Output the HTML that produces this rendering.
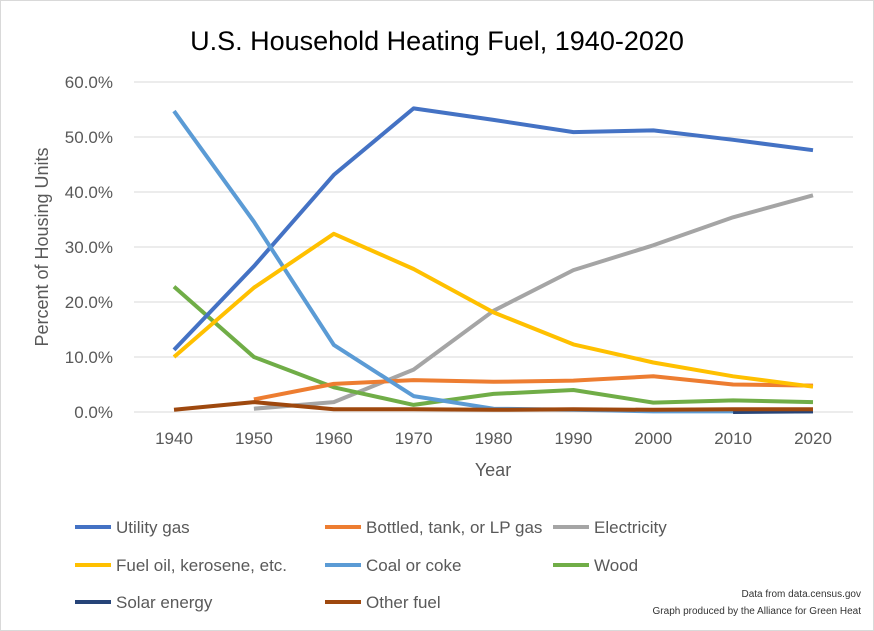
<!DOCTYPE html>
<html><head><meta charset="utf-8"><style>
body{margin:0;background:#fff;}
svg{display:block;font-family:"Liberation Sans",sans-serif;}
</style></head><body>
<svg id="chart" width="874" height="631">
<rect x="0.5" y="0.5" width="873" height="630" fill="#fff" stroke="#d9d9d9"/>
<text x="437" y="50" text-anchor="middle" font-size="27" fill="#000">U.S. Household Heating Fuel, 1940-2020</text>
<g id="grid"></g>
<g id="yticks"></g>
<g id="xticks"></g>
<text x="0" y="0" transform="translate(48,247) rotate(-90)" text-anchor="middle" font-size="18" fill="#595959">Percent of Housing Units</text>
<text x="493" y="476" text-anchor="middle" font-size="18" fill="#595959">Year</text>
<g id="series"></g>
<g id="legend"></g>
<text x="861" y="597" text-anchor="end" font-size="10" fill="#333">Data from data.census.gov</text>
<text x="861" y="614" text-anchor="end" font-size="10" fill="#333">Graph produced by the Alliance for Green Heat</text>
</svg>
<script>
const years = [1940,1950,1960,1970,1980,1990,2000,2010,2020];
const yTicks = [0,10,20,30,40,50,60];
const utilityGas = [11.3,26.5,43.1,55.2,53.1,50.9,51.2,49.5,47.6];
const bottledGas = [null,2.3,5.1,5.8,5.5,5.7,6.5,5.0,4.8];
const electricity = [null,0.6,1.8,7.7,18.4,25.8,30.3,35.4,39.4];
const fuelOil = [10.0,22.6,32.4,26.0,18.1,12.3,9.0,6.5,4.6];
const coal = [54.7,34.6,12.2,2.9,0.6,0.4,0.1,0.1,0.1];
const wood = [22.8,10.0,4.5,1.3,3.3,4.0,1.7,2.1,1.8];
const solar = [null,null,null,null,null,null,null,0.0,0.1];
const otherFuel = [0.4,1.8,0.5,0.5,0.4,0.5,0.4,0.5,0.5];

const NS="http://www.w3.org/2000/svg";
const x0=174,x1=813,yb=412,yt=82;
const xs=i=>x0+(x1-x0)*i/(years.length-1);
const ys=v=>yb-(yb-yt)*v/60;
function mk(t,a,p){const e=document.createElementNS(NS,t);for(const k in a)e.setAttribute(k,a[k]);p.appendChild(e);return e;}
const grid=document.getElementById('grid'),yt_=document.getElementById('yticks'),xt=document.getElementById('xticks');
yTicks.forEach(v=>{
  const l=mk('line',{x1:134,x2:853,y1:ys(v),y2:ys(v),stroke:'#d9d9d9','stroke-width':1},grid);
  
  
  const t=mk('text',{x:113,y:ys(v)+6,'text-anchor':'end','font-size':17,fill:'#595959'},yt_);
  t.textContent=v.toFixed(1)+'%';
  
  
});
years.forEach((y,i)=>{
  const t=mk('text',{x:xs(i),y:444,'text-anchor':'middle','font-size':17,fill:'#595959'},xt);
  t.textContent=y;
  
  
});
const series=[
 ['Utility gas',utilityGas,'#4472c4'],
 ['Bottled, tank, or LP gas',bottledGas,'#ed7d31'],
 ['Electricity',electricity,'#a5a5a5'],
 ['Fuel oil, kerosene, etc.',fuelOil,'#ffc000'],
 ['Coal or coke',coal,'#5b9bd5'],
 ['Wood',wood,'#70ad47'],
 ['Solar energy',solar,'#264478'],
 ['Other fuel',otherFuel,'#9e480e']
];
const sg=document.getElementById('series'),lg=document.getElementById('legend');
const order=[2,5,0,1,4,6,3,7];
order.forEach(k=>{
  const [name,data,col]=series[k];
  let d='';
  data.forEach((v,i)=>{if(v===null)return;d+=(d?'L':'M')+xs(i).toFixed(1)+','+ys(v).toFixed(1);});
  const p=mk('path',{d:d,fill:'none',stroke:col,'stroke-width':4,'stroke-linejoin':'round'},sg);
  
  
});
const lx=[75,325,553],ly=[527,565,602];
series.forEach(([name,data,col],i)=>{
  const g=mk('g',{},lg);
  
  
  const X=lx[i%3],Y=ly[Math.floor(i/3)];
  mk('line',{x1:X,x2:X+36,y1:Y,y2:Y,stroke:col,'stroke-width':4},g);
  const t=mk('text',{x:X+41,y:Y+6,'font-size':17,fill:'#595959'},g);
  t.textContent=name;
});
</script>
</body></html>
